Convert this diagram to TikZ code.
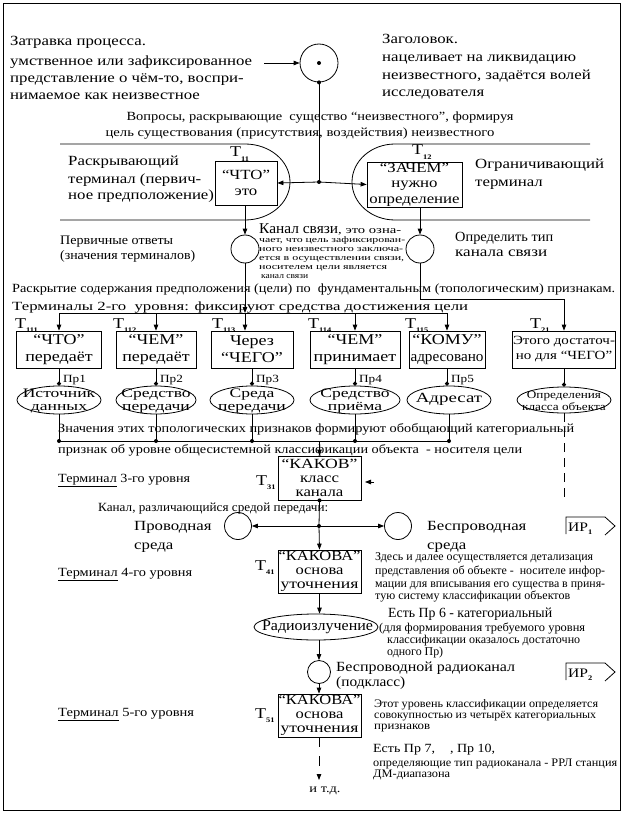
\documentclass[tikz,border=0pt]{standalone}
\usepackage{fontspec}
\setmainfont[FakeStretch=1.2]{Liberation Serif}
\newfontfamily\widefont[FakeStretch=1.35]{Liberation Serif}
\usepackage{graphicx}
\usetikzlibrary{arrows.meta,shapes.geometric}
\newsavebox\fitbox
\newcommand\fitw[2]{\sbox\fitbox{#2}\pgfmathsetmacro\fitr{#1/\the\wd\fitbox}\scalebox{\fitr}[1]{\usebox\fitbox}}
\newcommand\fsz[1]{\fontsize{#1}{#1}\selectfont}
\newcommand\Tsub[1]{T\raisebox{-0.3em}{\fontsize{7}{7}\selectfont\bfseries #1}}
\tikzset{
 ln/.style={line width=0.8pt},
 arr/.style={ln,-{Triangle[length=6pt,width=4.5pt]}},
 dotarr/.style={ln,-{Circle[length=4pt]}},
 jdot/.style={circle,fill,inner sep=0pt,minimum size=4pt},
 tbox/.style={draw,ln,inner sep=0pt,align=center},
 circ/.style={draw,ln,circle,inner sep=0pt,minimum size=28pt},
 ell/.style={draw,ln,ellipse,inner sep=0pt},
 etext/.style={inner sep=0pt,align=center,font=\widefont\fontsize{13}{13}\selectfont},
 txt/.style={inner sep=0pt,anchor=base west},
 ctxt/.style={inner sep=0pt,anchor=base},
 lbl/.style={inner sep=0pt,anchor=base west,font=\fsz{15}},
 bfont/.style={font=\fontsize{15}{17}\selectfont},
 kfont/.style={font=\fontsize{14}{14}\selectfont},
}
\begin{document}
\begin{tikzpicture}[x=1pt,y=-1pt]
\useasboundingbox (0,0) rectangle (624,813);
\draw[ln] (3,3) rectangle (620,810);

% ---- top texts
\node[txt] (tl1) at (10,46) {\fsz{14}Затравка процесса.};
\node[txt] (tl2) at (10,66) {\fsz{14}умственное или зафиксированное};
\node[txt] (tl3) at (10,83) {\fsz{14}представление о чём-то, воспри-};
\node[txt] (tl4) at (10,100) {\fsz{14}нимаемое как неизвестное};
\node[txt] (tr1) at (382,44) {\fsz{14}Заголовок.};
\node[txt] (tr2) at (382,62) {\fsz{14}нацеливает на ликвидацию};
\node[txt] (tr3) at (382,80) {\fsz{14}неизвестного, задаётся волей};
\node[txt] (tr4) at (382,97) {\fsz{14}исследователя};

\node[circ, minimum size=38pt] (c0) at (319,63) {};
\node[jdot] (c0d) at (c0) {};
\coordinate (a0) at (264,63);
\draw[arr] (a0) -- (c0.west);
\coordinate (j1) at (319,182);
\draw[ln] (c0.south) -- (j1);
\node[jdot] (c0s) at (c0.south) {};
\node[jdot] (j1d) at (j1) {};

\node[ctxt] (q1) at (320,121) {\fsz{12.5}\fitw{387}{Вопросы, раскрывающие \ существо “неизвестного”, формируя}};
\node[ctxt] (q2) at (300,137) {\fsz{12.5}\fitw{389}{цель существования (присутствия, воздействия) неизвестного}};

% ---- terminal shapes
\draw[ln] (60,144) -- (245,144) .. controls (269.85,144) and (290,161) .. (290,182)
  .. controls (290,203) and (269.85,220) .. (245,220) -- (60,220);
\draw[ln] (590,144) -- (395,144) .. controls (371.25,144) and (352,161) .. (352,182)
  .. controls (352,203) and (371.25,220) .. (395,220) -- (590,220);

\node[tbox, minimum width=62pt, minimum height=44pt, font=\fontsize{14}{16}\selectfont] (t11) at (246,183) {“ЧТО”\\это};
\node[lbl] (t11l) at (230,157) {\Tsub{11}};
\node[tbox, minimum width=95pt, minimum height=45pt, font=\fontsize{14}{15.5}\selectfont] (t12) at (414.5,184.5) {“ЗАЧЕМ”\\нужно\\определение};
\node[lbl] (t12l) at (412,155) {\Tsub{12}};
\draw[arr] (j1) -- (t11.east);
\draw[arr] (j1) -- (t12.west);

\node[txt] (rt1) at (68,166) {\fsz{14}Раскрывающий};
\node[txt] (rt2) at (68,183) {\fsz{14}терминал (первич-};
\node[txt] (rt3) at (68,200) {\fsz{14}ное предположение)};
\node[txt] (ot1) at (475,169) {\fsz{14}Ограничивающий};
\node[txt] (ot2) at (475,186) {\fsz{14}терминал};

% ---- first answers
\node[circ] (c1) at (245,249) {};
\node[circ] (c2) at (420,249) {};
\draw[arr] (c1 |- t11.south) -- (c1.north);
\draw[arr] (c2 |- t12.south) -- (c2.north);

\node[txt] (pa1) at (60,244) {\fsz{13}\fitw{113}{Первичные ответы}};
\node[txt] (pa2) at (60,259) {\fsz{13}\fitw{135}{(значения терминалов)}};
\node[txt] (ks0) at (259,233) {\fsz{15}\fitw{79}{Канал связи}\fsz{10.5}\fitw{63}{, это озна-}};
\node[txt] (ks1) at (259,242.5) {\fsz{8.5}\fitw{146}{чает, что цель зафиксирован-}};
\node[txt] (ks2) at (259,251.5) {\fsz{8.5}\fitw{144}{ного неизвестного заключа-}};
\node[txt] (ks3) at (259,260.5) {\fsz{8.5}\fitw{145}{ется в осуществлении связи,}};
\node[txt] (ks4) at (259,269.5) {\fsz{8.5}\fitw{128}{носителем цели является}};
\node[txt] (ks5) at (261,278.5) {\fsz{8.5}\fitw{47}{канал связи}};
\node[txt] (od1) at (455,241) {\fsz{14}\fitw{98}{Определить тип}};
\node[txt] (od2) at (455,256) {\fsz{14}\fitw{92}{канала связи}};

\node[txt] (rs1) at (12,292) {\fsz{12.5}\fitw{603}{Раскрытие содержания предположения (цели) по \ фундаментальным (топологическим) признакам.}};
\node[txt] (rs2) at (12,310) {\fsz{12.5}\fitw{456}{Терминалы 2-го \ уровня: фиксируют средства достижения цели}};

% ---- level 2
\coordinate (bL) at (59,313);
\coordinate (bR) at (447,313);
\draw[ln] (bL) -- (bR);
\draw[arr] (c1.south) -- (c1 |- bL);

\node[tbox, bfont, minimum width=85pt, minimum height=37pt] (b1) at (59,349.5) {“ЧТО”\\передаёт};
\node[tbox, bfont, minimum width=80pt, minimum height=37pt] (b2) at (156,349.5) {“ЧЕМ”\\передаёт};
\node[tbox, bfont, minimum width=82pt, minimum height=37pt] (b3) at (252,349.5) {Через\\“ЧЕГО”};
\node[tbox, bfont, minimum width=90pt, minimum height=37pt] (b4) at (355,349.5) {“ЧЕМ”\\принимает};
\node[tbox, bfont, minimum width=76pt, minimum height=37pt] (b5) at (447,349.5) {“КОМУ”\\\fitw{73}{адресовано}};
\node[tbox, minimum width=103pt, minimum height=37pt, font=\fontsize{12.5}{15}\selectfont] (b6) at (564,349.5) {Этого достаточ-\\но для “ЧЕГО”};

\draw[arr] (b1 |- bL) -- (b1.north);
\draw[arr] (b2 |- bL) -- (b2.north);
\draw[arr] (c1 |- bL) -- (c1 |- b3.north);
\draw[arr] (b4 |- bL) -- (b4.north);
\draw[arr] (bR) -- (b5.north);
\coordinate (k1) at (420,299);
\draw[arr] (c2.south) -- (k1) -| (b6.north);

\node[lbl] (l1) at (15,328) {\Tsub{111}};
\node[lbl] (l2) at (113,328) {\Tsub{112}};
\node[lbl] (l3) at (212,328) {\Tsub{113}};
\node[lbl] (l4) at (308,328) {\Tsub{114}};
\node[lbl] (l5) at (405,328) {\Tsub{115}};
\node[lbl] (l6) at (530,328) {\Tsub{21}};

\node[ell, minimum width=84pt, minimum height=28pt] (e1) at (59,400) {};
\node[ell, minimum width=80pt, minimum height=28pt] (e2) at (156,400) {};
\node[ell, minimum width=84pt, minimum height=28pt] (e3) at (252,400) {};
\node[ell, minimum width=90pt, minimum height=28pt] (e4) at (355,400) {};
\node[ell, minimum width=84pt, minimum height=28pt] (e5) at (449,400) {};
\node[ell, minimum width=94pt, minimum height=26pt] (e6) at (564,400) {};
\node[etext] (e1t) at (59,401) {Источник\\данных};
\node[etext] (e2t) at (156,401) {Средство\\передачи};
\node[etext] (e3t) at (252,401) {Среда\\передачи};
\node[etext] (e4t) at (355,401) {Средство\\приёма};
\node[etext, font=\widefont\fontsize{14}{14}\selectfont] (e5t) at (449,399) {Адресат};
\node[inner sep=0pt, align=center, font=\fontsize{11}{11.5}\selectfont] (e6t) at (564,401) {Определения\\класса объекта};

\draw[dotarr] (b1.south) -- (e1.north);
\draw[dotarr] (b2.south) -- (e2.north);
\draw[dotarr] (b3.south) -- (e3.north);
\draw[dotarr] (b4.south) -- (e4.north);
\draw[dotarr] (b5.south) -- (b5.south |- e5.north);
\draw[dotarr] (b6.south) -- (e6.north);
\node[txt] (p1) at (63,382) {\fsz{11}Пр1};
\node[txt] (p2) at (160,382) {\fsz{11}Пр2};
\node[txt] (p3) at (256,382) {\fsz{11}Пр3};
\node[txt] (p4) at (359,382) {\fsz{11}Пр4};
\node[txt] (p5) at (451,382) {\fsz{11}Пр5};

% ---- bus 2
\coordinate (bbL) at (59,441);
\coordinate (bbR) at (449,441);
\draw[ln] (e1.south) -- (e1 |- bbL);
\draw[ln] (e2.south) -- (e2 |- bbL);
\draw[ln] (e3.south) -- (e3 |- bbL);
\draw[ln] (e4.south) -- (e4 |- bbL);
\draw[ln] (e5.south) -- (bbR);
\draw[ln] (bbL) -- (bbR);
\node[jdot] (d1) at (bbL) {};
\node[jdot] (d2) at (e2 |- bbL) {};
\node[jdot] (d3) at (e3 |- bbL) {};
\node[jdot] (d4) at (e4 |- bbL) {};
\node[jdot] (d5) at (bbR) {};
\coordinate (d6e) at (564,500);
\draw[ln, dashed, dash pattern=on 9pt off 6pt] (e6.south) -- (d6e);

\node[txt] (zn1) at (58,432) {\fsz{12.5}\fitw{516}{Значения этих топологических признаков формируют обобщающий категориальный}};
\node[txt] (zn2) at (58,453) {\fsz{12.5}\fitw{464}{признак об уровне общесистемной классификации объекта \ - носителя цели}};

% ---- level 3
\node[tbox, kfont, minimum width=83pt, minimum height=44pt] (k3) at (319.5,478) {\fitw{76}{“КАКОВ”}\\класс\\канала};
\draw[arr] (k3 |- bbL) -- (k3.north);
\node[lbl] (l31) at (256,485) {\Tsub{31}};
\node[txt] (tm3) at (58,482) {\fsz{12.5}\fitw{132}{\underline{Терминал} 3-го уровня}};
\coordinate (sa1) at (374,482);
\coordinate (sa2) at (365,482);
\draw[arr] (sa1) -- (sa2);

\node[txt] (kr) at (98,511) {\fsz{12.5}\fitw{230}{Канал, различающийся средой передачи:}};
\coordinate (j3) at (319,526);
\draw[ln] (k3.south) -- (j3);
\node[jdot] (k3s) at (k3.south) {};
\node[jdot] (j3d) at (j3) {};
\node[circ, minimum size=27pt] (c3) at (238,526) {};
\node[circ, minimum size=27pt] (c4) at (398,526) {};
\draw[arr] (j3) -- (c3.east);
\draw[arr] (j3) -- (c4.west);
\node[txt] (pv1) at (134,530) {\fsz{14}Проводная};
\node[txt] (pv2) at (134,549) {\fsz{14}среда};
\node[txt] (bp1) at (427,530) {\fsz{14}Беспроводная};
\node[txt] (bp2) at (427,549) {\fsz{14}среда};
\draw[ln] (566,534) -- (566,517) -- (605,517) -- (615,526) -- (605,535);
\node[txt] (ir1) at (568,531) {\fsz{13}ИР\raisebox{-0.3em}{\fsz{7}\bfseries 1}};

% ---- level 4
\node[tbox, kfont, minimum width=83pt, minimum height=43pt] (k4) at (319.5,571.5) {\fitw{82}{“КАКОВА”}\\\fitw{48}{основа}\\\fitw{78}{уточнения}};
\draw[arr] (j3) -- (k4.north);
\node[lbl] (l41) at (255,570) {\Tsub{41}};
\node[txt] (tm4) at (58,576) {\fsz{12.5}\fitw{134}{\underline{Терминал} 4-го уровня}};
\node[txt] (zd1) at (375,560) {\fsz{12}\fitw{218}{Здесь и далее осуществляется детализация}};
\node[txt] (zd2) at (375,574) {\fsz{12}\fitw{230}{представления об объекте - \ носителе инфор-}};
\node[txt] (zd3) at (375,587) {\fsz{12}\fitw{230}{мации для вписывания его существа в приня-}};
\node[txt] (zd4) at (375,599) {\fsz{12}\fitw{195}{тую систему классификации объектов}};

\node[ell, minimum width=124pt, minimum height=26pt] (er) at (316,627) {};
\node[inner sep=0pt, font=\fsz{15}] (ert) at (317.5,627) {\fitw{111}{Радиоизлучение}};
\draw[arr] (k4.south) -- (k4.south |- er.north);
\node[txt] (ep1) at (388,617.5) {\fsz{14}\fitw{164}{Есть Пр 6 - категориальный}};
\node[txt] (ep2) at (379,631) {\fsz{12}\fitw{206}{(для формирования требуемого уровня}};
\node[txt] (ep3) at (387,643) {\fsz{12}\fitw{193}{классификации оказалось достаточно}};
\node[txt] (ep4) at (387,655) {\fsz{12}\fitw{56}{одного Пр)}};

\node[circ, minimum size=23pt] (c5) at (319,672) {};
\draw[arr] (c5 |- er.south) -- (c5.north);
\node[txt] (br1) at (336,671.5) {\fsz{14}\fitw{179}{Беспроводной радиоканал}};
\node[txt] (br2) at (336,686.5) {\fsz{14}\fitw{69}{(подкласс)}};
\draw[ln] (566,680) -- (566,663) -- (605,663) -- (615,672) -- (605,681);
\node[txt] (ir2) at (568,677) {\fsz{13}ИР\raisebox{-0.3em}{\fsz{7}\bfseries 2}};

% ---- level 5
\node[tbox, kfont, minimum width=83pt, minimum height=43pt] (k5) at (319.5,715.5) {\fitw{82}{“КАКОВА”}\\\fitw{48}{основа}\\\fitw{78}{уточнения}};
\draw[arr] (c5.south) -- (c5.south |- k5.north);
\node[lbl] (l51) at (255,718) {\Tsub{51}};
\node[txt] (tm5) at (58,716) {\fsz{12.5}\fitw{136}{\underline{Терминал} 5-го уровня}};
\node[txt] (ey1) at (374,707) {\fsz{11.5}\fitw{224}{Этот уровень классификации определяется}};
\node[txt] (ey2) at (374,718) {\fsz{11.5}\fitw{222}{совокупностью из четырёх категориальных}};
\node[txt] (ey3) at (374,729) {\fsz{11.5}\fitw{56}{признаков}};
\node[txt] (es1) at (373,752.5) {\fsz{12.5}\fitw{122}{Есть Пр 7, \quad, Пр 10,}};
\node[txt] (es2) at (373,766) {\fsz{11.5}\fitw{244}{определяющие тип радиоканала - РРЛ станция}};
\node[txt] (es3) at (373,777) {\fsz{11.5}\fitw{77}{ДМ-диапазона}};
\coordinate (endp) at (319,780);
\draw[arr, dashed, dash pattern=on 10pt off 9pt] (k5.south -| endp) -- (endp);
\node[ctxt] (itd) at (325,792) {\fsz{12}и т.д.};
\end{tikzpicture}
\end{document}
